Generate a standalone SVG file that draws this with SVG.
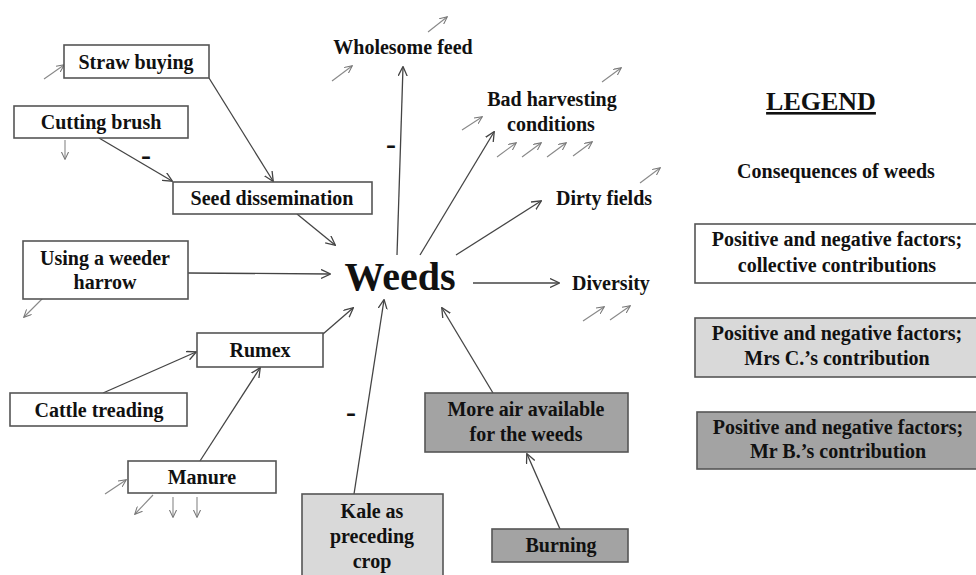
<svg xmlns="http://www.w3.org/2000/svg" width="976" height="575" viewBox="0 0 976 575">
<style>
.lbl{font-family:'Liberation Serif',serif !important;font-weight:700;fill:#111;text-anchor:middle;font-size:20px}
.lbl.big{font-size:40px}
.lbl.leg{font-size:26px;text-decoration:underline}
.lbl.minus{font-size:30px}
.box{stroke:#555;stroke-width:1.6}
.fillw{fill:#fff}.filll{fill:#d9d9d9}.filld{fill:#a3a3a3}
.conn{stroke:#444;stroke-width:1.3;fill:none;marker-end:url(#ah)}
.small{stroke:#888;stroke-width:1.1;fill:none;marker-end:url(#sh)}
</style>
<defs>
<marker id="ah" viewBox="0 0 10 10" refX="9" refY="5" markerWidth="10" markerHeight="10" markerUnits="userSpaceOnUse" orient="auto">
<path d="M0,0.5 L9.5,5 L0,9.5" fill="none" stroke="#444" stroke-width="1.3"/>
</marker>
<marker id="sh" viewBox="0 0 10 10" refX="9" refY="5" markerWidth="8" markerHeight="8" markerUnits="userSpaceOnUse" orient="auto">
<path d="M0,0.5 L9.5,5 L0,9.5" fill="none" stroke="#777" stroke-width="1.3"/>
</marker>
</defs>
<rect width="976" height="575" fill="#fff"/>

<g id="connectors">
<line class="conn" x1="209" y1="78" x2="273" y2="181"/>
<line class="conn" x1="99" y1="138" x2="172" y2="181"/>
<line class="conn" x1="297" y1="214" x2="335" y2="245"/>
<line class="conn" x1="188" y1="273" x2="330" y2="274"/>
<line class="conn" x1="323" y1="334" x2="353" y2="308"/>
<line class="conn" x1="103" y1="393" x2="196" y2="352"/>
<line class="conn" x1="200" y1="461" x2="260" y2="368"/>
<line class="conn" x1="354" y1="494" x2="384" y2="300"/>
<line class="conn" x1="493" y1="393" x2="442" y2="308"/>
<line class="conn" x1="560" y1="529" x2="527" y2="454"/>
<line class="conn" x1="397" y1="255" x2="403" y2="67"/>
<line class="conn" x1="420" y1="255" x2="494" y2="132"/>
<line class="conn" x1="456" y1="255" x2="541" y2="201"/>
<line class="conn" x1="473" y1="283" x2="559" y2="283"/>
<text class="lbl minus" font-family="Liberation Serif" style="font-family:'Liberation Serif',serif" x="146" y="165">-</text>
<text class="lbl minus" font-family="Liberation Serif" style="font-family:'Liberation Serif',serif" x="391" y="154">-</text>
<text class="lbl minus" font-family="Liberation Serif" style="font-family:'Liberation Serif',serif" x="351" y="422">-</text>
<line class="small" x1="44" y1="79" x2="64" y2="65"/>
<line class="small" x1="65" y1="140" x2="65" y2="159"/>
<line class="small" x1="43" y1="298" x2="24" y2="317"/>
<line class="small" x1="105" y1="494" x2="126" y2="480"/>
<line class="small" x1="153" y1="495" x2="135" y2="514"/>
<line class="small" x1="173" y1="497" x2="173" y2="517"/>
<line class="small" x1="197" y1="497" x2="197" y2="517"/>
<line class="small" x1="428" y1="32" x2="447" y2="17"/>
<line class="small" x1="332" y1="81" x2="352" y2="66"/>
<line class="small" x1="602" y1="82" x2="621" y2="68"/>
<line class="small" x1="462" y1="130" x2="482" y2="117"/>
<line class="small" x1="497" y1="157" x2="516" y2="143"/>
<line class="small" x1="522" y1="157" x2="541" y2="143"/>
<line class="small" x1="547" y1="157" x2="566" y2="143"/>
<line class="small" x1="573" y1="156" x2="592" y2="142"/>
<line class="small" x1="640" y1="183" x2="660" y2="168"/>
<line class="small" x1="583" y1="321" x2="604" y2="307"/>
<line class="small" x1="610" y1="320" x2="630" y2="306"/>
</g>

<g id="straw-buying"><rect class="box fillw" x="64" y="45" width="145" height="33"/><text class="lbl" font-family="Liberation Serif" style="font-family:'Liberation Serif',serif" x="136" y="69">Straw buying</text></g>
<g id="cutting-brush"><rect class="box fillw" x="14" y="106" width="174" height="32"/><text class="lbl" font-family="Liberation Serif" style="font-family:'Liberation Serif',serif" x="101" y="129">Cutting brush</text></g>
<g id="seed-dissemination"><rect class="box fillw" x="173" y="182" width="199" height="32"/><text class="lbl" font-family="Liberation Serif" style="font-family:'Liberation Serif',serif" x="272" y="205">Seed dissemination</text></g>
<g id="weeder-harrow"><rect class="box fillw" x="23" y="241" width="165" height="58"/><text class="lbl" font-family="Liberation Serif" style="font-family:'Liberation Serif',serif" x="105" y="265">Using a weeder</text><text class="lbl" font-family="Liberation Serif" style="font-family:'Liberation Serif',serif" x="105" y="289">harrow</text></g>
<g id="rumex"><rect class="box fillw" x="197" y="333" width="126" height="34"/><text class="lbl" font-family="Liberation Serif" style="font-family:'Liberation Serif',serif" x="260" y="357">Rumex</text></g>
<g id="cattle-treading"><rect class="box fillw" x="10" y="393" width="177" height="33"/><text class="lbl" font-family="Liberation Serif" style="font-family:'Liberation Serif',serif" x="99" y="417">Cattle treading</text></g>
<g id="manure"><rect class="box fillw" x="128" y="461" width="148" height="32"/><text class="lbl" font-family="Liberation Serif" style="font-family:'Liberation Serif',serif" x="202" y="484">Manure</text></g>
<g id="kale"><rect class="box filll" x="302" y="494" width="141" height="90"/><text class="lbl" font-family="Liberation Serif" style="font-family:'Liberation Serif',serif" x="372" y="518">Kale as</text><text class="lbl" font-family="Liberation Serif" style="font-family:'Liberation Serif',serif" x="372" y="543">preceding</text><text class="lbl" font-family="Liberation Serif" style="font-family:'Liberation Serif',serif" x="372" y="568">crop</text></g>
<g id="more-air"><rect class="box filld" x="425" y="393" width="203" height="59"/><text class="lbl" font-family="Liberation Serif" style="font-family:'Liberation Serif',serif" x="526" y="416">More air available</text><text class="lbl" font-family="Liberation Serif" style="font-family:'Liberation Serif',serif" x="526" y="441">for the weeds</text></g>
<g id="burning"><rect class="box filld" x="492" y="529" width="136" height="33"/><text class="lbl" font-family="Liberation Serif" style="font-family:'Liberation Serif',serif" x="561" y="552">Burning</text></g>
<g id="weeds"><text class="lbl big" font-family="Liberation Serif" style="font-family:'Liberation Serif',serif" x="400" y="290">Weeds</text></g>
<g id="wholesome-feed"><text class="lbl" font-family="Liberation Serif" style="font-family:'Liberation Serif',serif" x="403" y="54">Wholesome feed</text></g>
<g id="bad-harvesting"><text class="lbl" font-family="Liberation Serif" style="font-family:'Liberation Serif',serif" x="552" y="106">Bad harvesting</text><text class="lbl" font-family="Liberation Serif" style="font-family:'Liberation Serif',serif" x="551" y="131">conditions</text></g>
<g id="dirty-fields"><text class="lbl" font-family="Liberation Serif" style="font-family:'Liberation Serif',serif" x="604" y="205">Dirty fields</text></g>
<g id="diversity"><text class="lbl" font-family="Liberation Serif" style="font-family:'Liberation Serif',serif" x="611" y="290">Diversity</text></g>

<g id="legend">
<text class="lbl leg" font-family="Liberation Serif" style="font-family:'Liberation Serif',serif" x="821" y="110">LEGEND</text>
<text class="lbl" font-family="Liberation Serif" style="font-family:'Liberation Serif',serif" x="836" y="178">Consequences of weeds</text>
<rect class="box fillw" x="695" y="224" width="282" height="59"/>
<text class="lbl" font-family="Liberation Serif" style="font-family:'Liberation Serif',serif" x="837" y="246">Positive and negative factors;</text>
<text class="lbl" font-family="Liberation Serif" style="font-family:'Liberation Serif',serif" x="837" y="272">collective contributions</text>
<rect class="box filll" x="695" y="318" width="282" height="59"/>
<text class="lbl" font-family="Liberation Serif" style="font-family:'Liberation Serif',serif" x="837" y="340">Positive and negative factors;</text>
<text class="lbl" font-family="Liberation Serif" style="font-family:'Liberation Serif',serif" x="837" y="365">Mrs C.’s contribution</text>
<rect class="box filld" x="697" y="412" width="280" height="57"/>
<text class="lbl" font-family="Liberation Serif" style="font-family:'Liberation Serif',serif" x="838" y="434">Positive and negative factors;</text>
<text class="lbl" font-family="Liberation Serif" style="font-family:'Liberation Serif',serif" x="838" y="458">Mr B.’s contribution</text>
</g>
</svg>
